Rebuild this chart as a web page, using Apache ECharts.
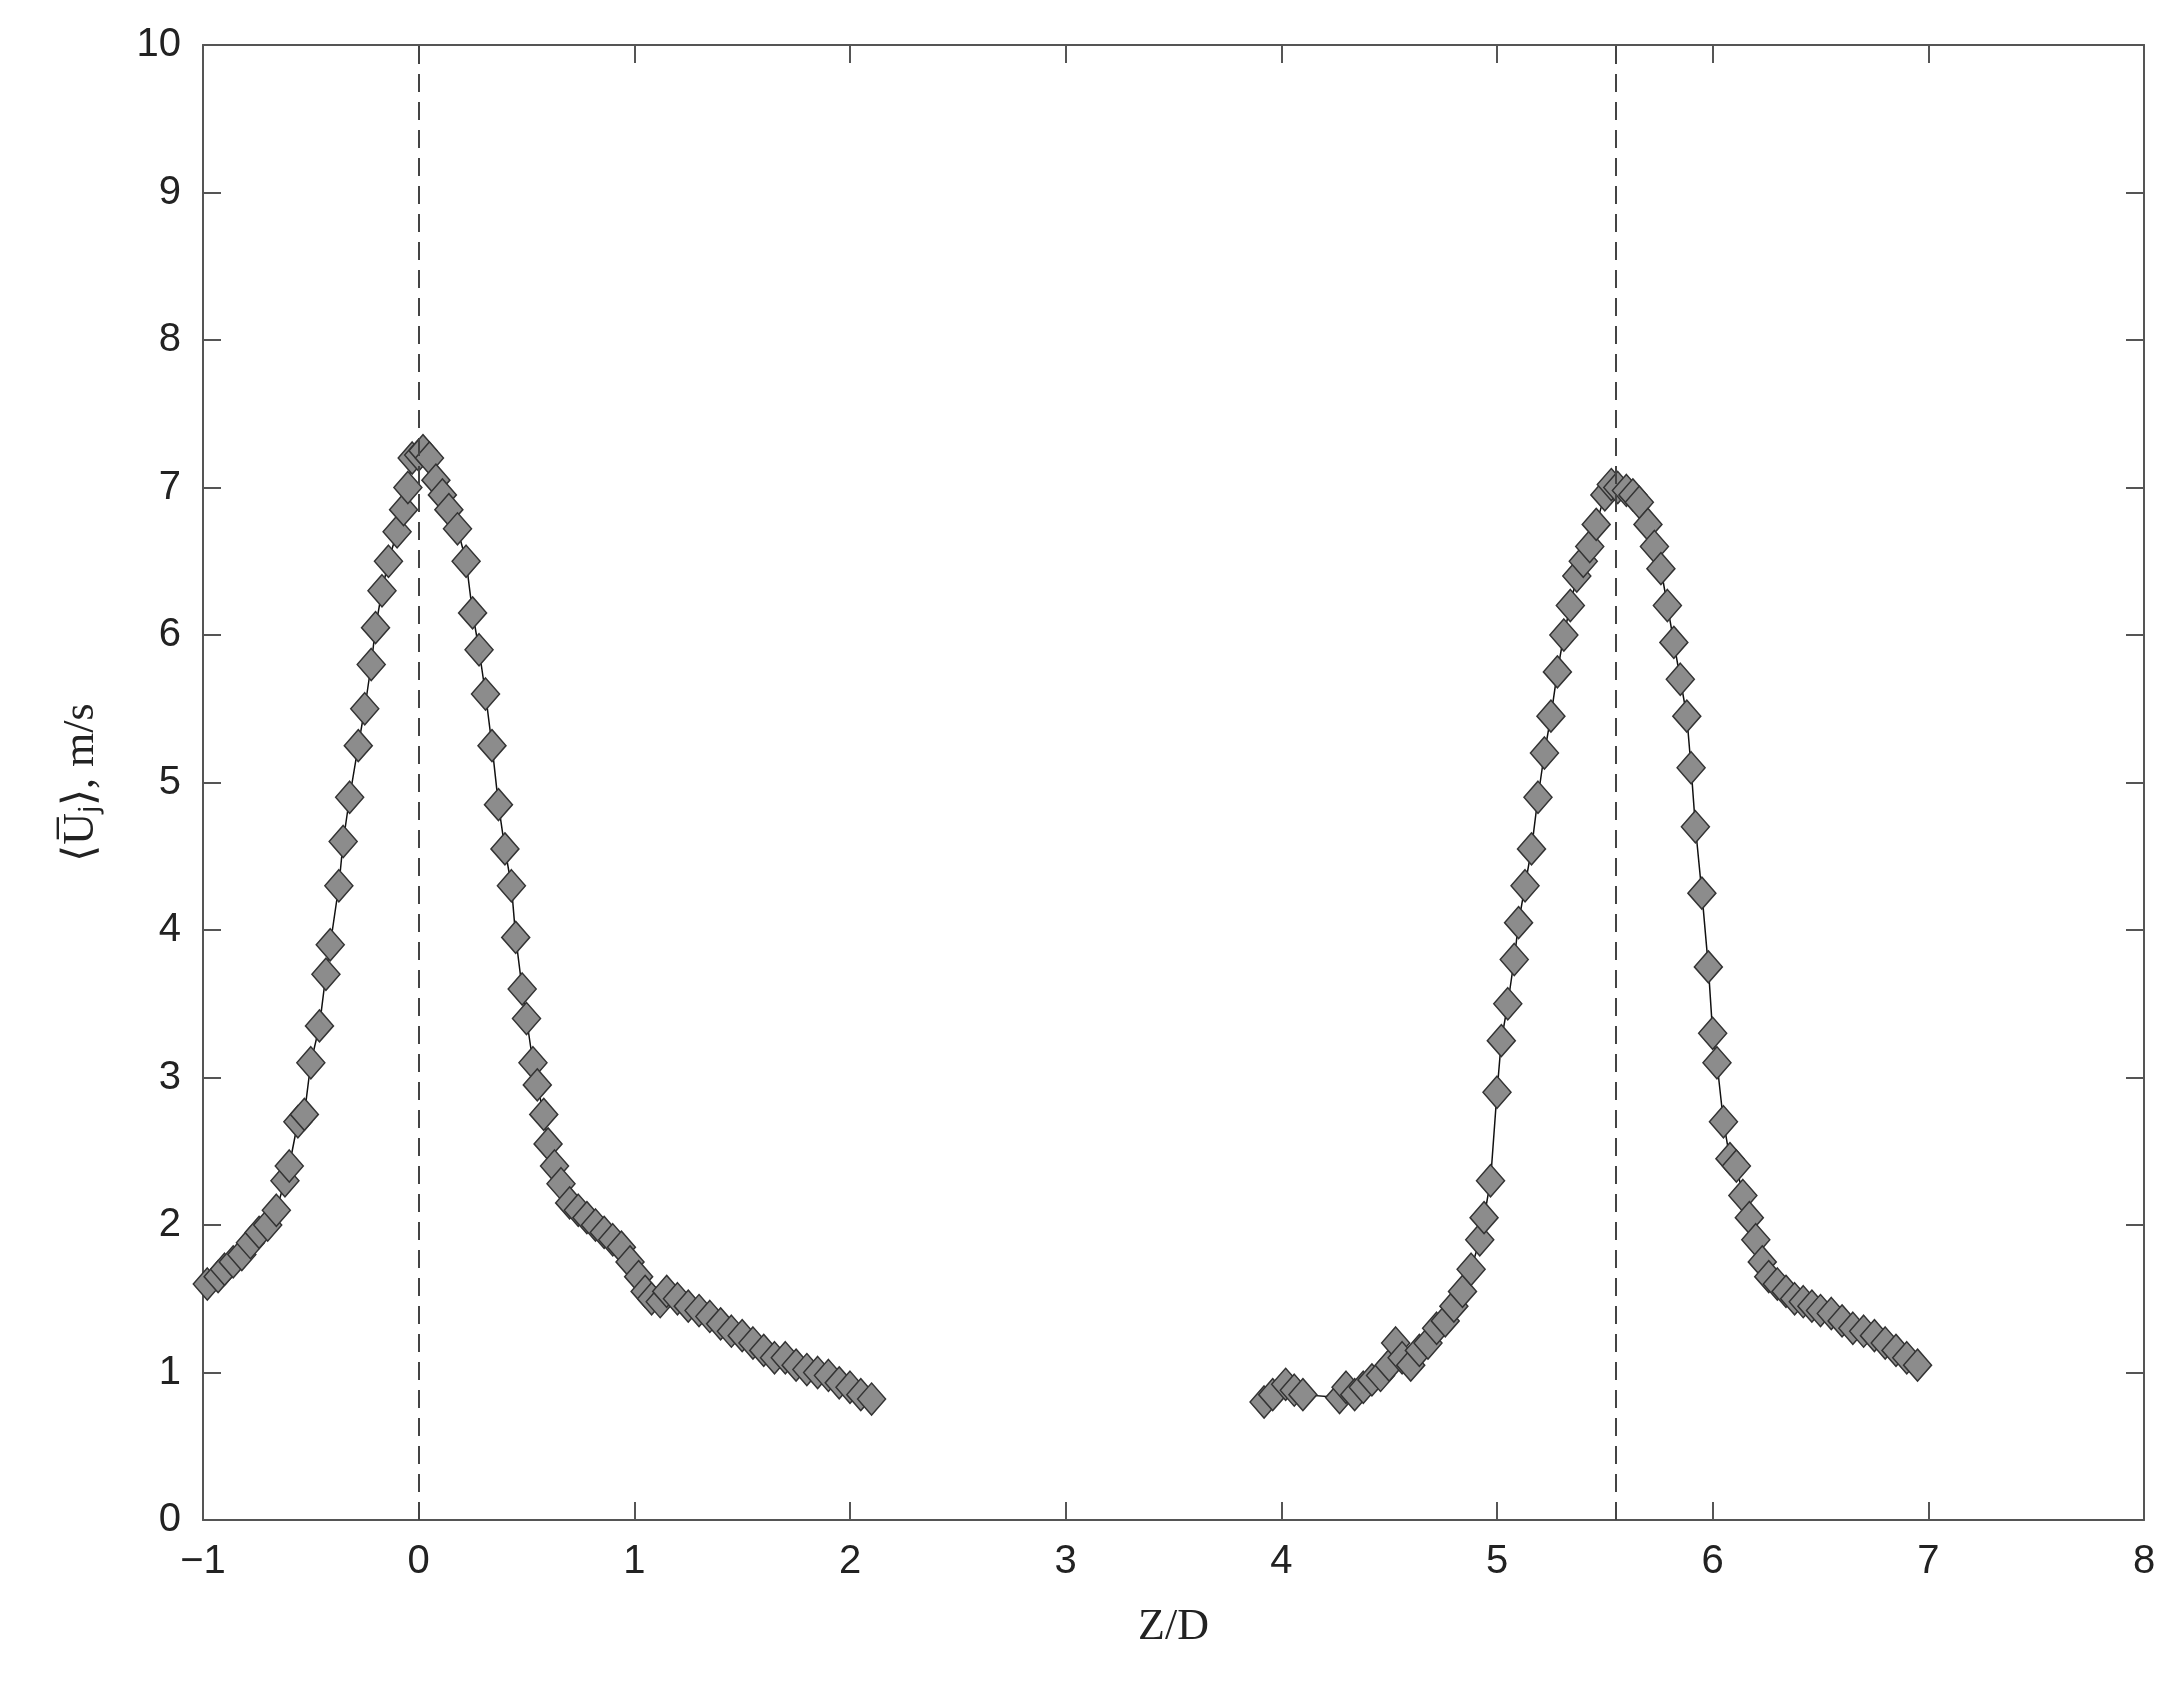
<!DOCTYPE html>
<html>
<head>
<meta charset="utf-8">
<script src="https://cdn.jsdelivr.net/npm/echarts@6/dist/echarts.min.js"></script>
<style>html,body{margin:0;background:#fff}#chart{width:2172px;height:1693px}</style>
</head>
<body>
<div id="chart"></div>
<script>
// left jet profile
const leftZ = [-0.98,-0.93,-0.9,-0.86,-0.82,-0.78,-0.74,-0.7,-0.66,-0.62,-0.6,-0.56,-0.53,-0.5,-0.46,-0.43,-0.41,-0.37,-0.35,-0.32,-0.28,-0.25,-0.22,-0.2,-0.17,-0.14,-0.1,-0.07,-0.05,-0.03,0.0,0.02,0.05,0.08,0.11,0.14,0.18,0.22,0.25,0.28,0.31,0.34,0.37,0.4,0.43,0.45,0.48,0.5,0.53,0.55,0.58,0.6,0.63,0.66,0.7,0.74,0.78,0.82,0.86,0.9,0.94,0.98,1.02,1.05,1.08,1.12,1.15,1.2,1.25,1.3,1.35,1.4,1.45,1.5,1.55,1.6,1.65,1.7,1.75,1.8,1.85,1.9,1.95,2.0,2.05,2.1];
const leftU = [1.6,1.65,1.7,1.75,1.8,1.88,1.95,2.0,2.1,2.3,2.4,2.7,2.75,3.1,3.35,3.7,3.9,4.3,4.6,4.9,5.25,5.5,5.8,6.05,6.3,6.5,6.7,6.85,7.0,7.2,7.22,7.25,7.2,7.05,6.95,6.85,6.72,6.5,6.15,5.9,5.6,5.25,4.85,4.55,4.3,3.95,3.6,3.4,3.1,2.95,2.75,2.55,2.4,2.28,2.15,2.1,2.05,2.0,1.95,1.9,1.85,1.75,1.65,1.55,1.5,1.48,1.55,1.5,1.45,1.42,1.38,1.33,1.28,1.25,1.2,1.15,1.1,1.1,1.05,1.02,1.0,0.98,0.93,0.9,0.85,0.82];
// right jet profile
const rightZ = [3.92,3.96,4.02,4.06,4.1,4.27,4.3,4.34,4.38,4.42,4.46,4.5,4.53,4.56,4.6,4.64,4.68,4.72,4.76,4.8,4.84,4.88,4.92,4.94,4.97,5.0,5.02,5.05,5.08,5.1,5.13,5.16,5.19,5.22,5.25,5.28,5.31,5.34,5.37,5.4,5.43,5.46,5.5,5.53,5.56,5.6,5.63,5.66,5.7,5.73,5.76,5.79,5.82,5.85,5.88,5.9,5.92,5.95,5.98,6.0,6.02,6.05,6.08,6.11,6.14,6.17,6.2,6.23,6.26,6.3,6.34,6.38,6.42,6.46,6.5,6.55,6.6,6.65,6.7,6.75,6.8,6.85,6.9,6.95];
const rightU = [0.8,0.85,0.92,0.88,0.85,0.83,0.9,0.85,0.9,0.95,0.98,1.05,1.2,1.1,1.05,1.15,1.2,1.3,1.35,1.45,1.55,1.7,1.9,2.05,2.3,2.9,3.25,3.5,3.8,4.05,4.3,4.55,4.9,5.2,5.45,5.75,6.0,6.2,6.4,6.5,6.6,6.75,6.95,7.02,7.0,6.98,6.95,6.9,6.75,6.6,6.45,6.2,5.95,5.7,5.45,5.1,4.7,4.25,3.75,3.3,3.1,2.7,2.45,2.4,2.2,2.05,1.9,1.75,1.65,1.6,1.55,1.5,1.48,1.45,1.42,1.4,1.35,1.3,1.28,1.25,1.2,1.15,1.1,1.05];
const centerLines = [0, 5.55];

const zip = (a, b) => a.map((v, i) => [v, b[i]]);
const chart = echarts.init(document.getElementById('chart'));
const tickFont = { fontFamily: 'Liberation Sans', fontSize: 40, color: '#222' };
const lineSty = { color: '#555', width: 2 };
const axLine = { show: true, onZero: false, lineStyle: lineSty };
const axTick = { inside: true, length: 18, lineStyle: lineSty };

const series = [leftZ, rightZ].map((z, k) => ({
  type: 'line',
  data: zip(z, k === 0 ? leftU : rightU),
  symbol: 'diamond',
  symbolSize: [28, 32],
  lineStyle: { color: '#111', width: 1.5 },
  itemStyle: { color: '#8c8c8c', borderColor: '#333', borderWidth: 1.5 },
  z: 3
}));
series.push({
  type: 'line', data: [], silent: true,
  markLine: {
    symbol: 'none', label: { show: false },
    lineStyle: { color: '#444', type: [18, 10], width: 2 },
    data: centerLines.map(v => ({ xAxis: v }))
  }
});

chart.setOption({
  animation: false,
  grid: { left: 203, right: 28, top: 45, bottom: 173 },
  xAxis: [
    { type: 'value', min: -1, max: 8, interval: 1,
      name: 'Z/D', nameLocation: 'middle', nameGap: 85,
      nameTextStyle: { fontFamily: 'Liberation Serif', fontSize: 44, color: '#222' },
      axisLine: axLine, axisTick: axTick,
      axisLabel: { ...tickFont, margin: 22, formatter: v => v < 0 ? '\u2212' + (-v) : v },
      splitLine: { show: false } },
    { type: 'value', position: 'top', min: -1, max: 8, interval: 1,
      axisLine: axLine, axisTick: axTick,
      axisLabel: { show: false }, splitLine: { show: false } }
  ],
  yAxis: [
    { type: 'value', min: 0, max: 10, interval: 1,
      name: '\u27E8U\u0305\u2C7C\u27E9, m/s', nameLocation: 'middle', nameGap: 100,
      nameTextStyle: { fontFamily: 'Liberation Serif', fontSize: 44, color: '#222' },
      axisLine: axLine, axisTick: axTick,
      axisLabel: { ...tickFont, margin: 22 }, splitLine: { show: false } },
    { type: 'value', position: 'right', min: 0, max: 10, interval: 1,
      axisLine: axLine, axisTick: axTick,
      axisLabel: { show: false }, splitLine: { show: false } }
  ],
  series
});
</script>
</body>
</html>
